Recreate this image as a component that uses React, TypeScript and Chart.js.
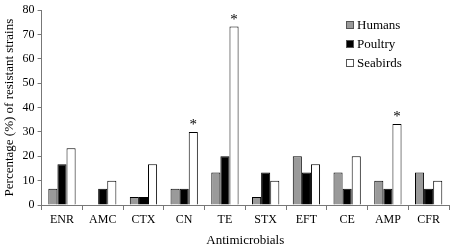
import React, { useEffect, useRef } from "react";
import { Chart, registerables } from "chart.js";

Chart.register(...registerables);

const categories = ["ENR", "AMC", "CTX", "CN", "TE", "STX", "EFT", "CE", "AMP", "CFR"];
const humans = [6.7, 0, 3.3, 6.7, 13.3, 3.3, 20, 13.3, 10, 13.3];
const poultry = [16.7, 6.7, 3.3, 6.7, 20, 13.3, 13.3, 6.7, 6.7, 6.7];
const seabirds = [23.3, 10, 16.7, 30, 73.3, 10, 16.7, 20, 33.3, 10];
const significant = ["CN", "TE", "AMP"];
const seriesNames = ["Humans", "Poultry", "Seabirds"];
const seriesColors = ["#9a9a9a", "#000000", "#ffffff"];

const FONT = "'Liberation Serif', 'Times New Roman', serif";

const asteriskPlugin = {
  id: "asterisks",
  afterDatasetsDraw(chart: any) {
    const meta = chart.getDatasetMeta(2);
    const ctx = chart.ctx;
    ctx.save();
    ctx.fillStyle = "#000";
    ctx.font = `15px ${FONT}`;
    ctx.textAlign = "center";
    ctx.textBaseline = "bottom";
    categories.forEach((c, i) => {
      if (significant.includes(c)) {
        const el = meta.data[i];
        ctx.fillText("*", el.x, el.y + 1);
      }
    });
    ctx.restore();
  },
};

export default function App() {
  const ref = useRef<HTMLCanvasElement>(null);
  useEffect(() => {
    document.body.style.margin = "0";
    const chart = new Chart(ref.current!, {
      type: "bar",
      data: {
        labels: categories,
        datasets: [humans, poultry, seabirds].map((d, i) => ({
          label: seriesNames[i],
          data: d,
          backgroundColor: seriesColors[i],
          borderColor: "#000",
          borderWidth: 1,
          categoryPercentage: 0.67,
          barPercentage: 1,
        })),
      },
      options: {
        animation: false,
        responsive: false,
        layout: { padding: { top: 0, right: 5, left: 2, bottom: 2 } },
        plugins: {
          legend: { display: false },
          tooltip: { enabled: false },
        },
        scales: {
          x: {
            grid: {
              display: true,
              drawOnChartArea: false,
              drawTicks: true,
              tickLength: 5,
              color: "#777",
              offset: true,
            },
            border: { color: "#777" },
            ticks: { color: "#000", font: { family: FONT, size: 12 }, padding: 3 },
            title: {
              display: true,
              text: "Antimicrobials",
              color: "#000",
              font: { family: FONT, size: 13 },
              padding: { top: 2, bottom: 0 },
            },
          },
          y: {
            min: 0,
            max: 80,
            grid: {
              display: true,
              drawOnChartArea: false,
              drawTicks: true,
              tickLength: 4,
              color: "#777",
            },
            border: { color: "#777" },
            ticks: { stepSize: 10, color: "#000", font: { family: FONT, size: 12 }, padding: 3 },
            title: {
              display: true,
              text: "Percentage (%) of resistant strains",
              color: "#000",
              font: { family: FONT, size: 13 },
              padding: { top: 0, bottom: 2 },
            },
          },
        },
      },
      plugins: [asteriskPlugin],
    });
    return () => chart.destroy();
  }, []);

  return (
    <div style={{ position: "relative", width: 454, height: 250, background: "#fff" }}>
      <canvas ref={ref} width={454} height={250} />
      <div style={{ position: "absolute", left: 346, top: 15, fontFamily: FONT, fontSize: 13, color: "#000" }}>
        {seriesNames.map((n, i) => (
          <div key={n} style={{ display: "flex", alignItems: "center", height: 19 }}>
            <span
              style={{
                width: 6,
                height: 6,
                border: "1px solid #555",
                background: seriesColors[i],
                marginRight: 3,
                display: "inline-block",
              }}
            />
            <span>{n}</span>
          </div>
        ))}
      </div>
    </div>
  );
}
